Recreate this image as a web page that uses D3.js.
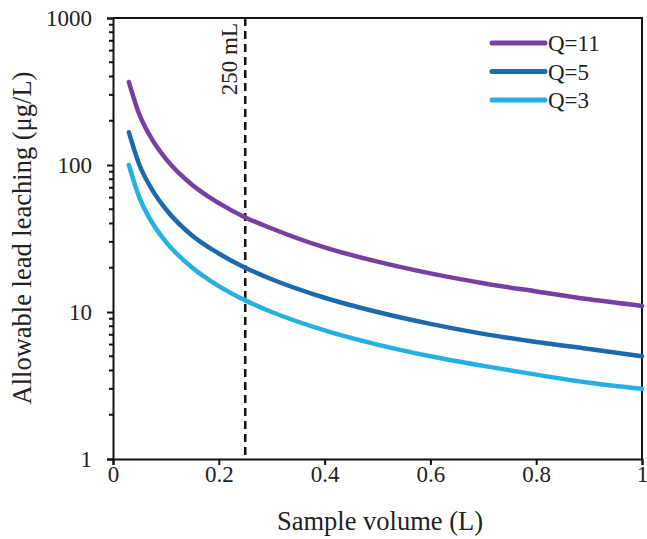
<!DOCTYPE html>
<html lang="en">
<head>
<meta charset="UTF-8">
<script src="https://d3js.org/d3.v7.min.js"></script>
<style>
    body { margin: 0; background: #fff; }
</style>
</head>
<body>
<div id="chart"></div>
<script>
    // sample volume (L)
    const volumes = [0.03, 0.05, 0.075, 0.1, 0.15, 0.2, 0.25, 0.3, 0.4, 0.5, 0.6, 0.7, 0.8, 0.9, 1.0];
    // allowable lead leaching (ug/L) per curve
    const q11 = [367, 220, 147, 110, 73, 55, 44, 37, 27.5, 22, 18.3, 15.7, 13.8, 12.2, 11];
    const q5  = [167, 100, 67, 50, 33, 25, 20, 16.7, 12.5, 10, 8.3, 7.1, 6.25, 5.6, 5];
    const q3  = [100, 60, 40, 30, 20, 15, 12, 10, 7.5, 6, 5, 4.3, 3.75, 3.3, 3];
    const seriesNames = ["Q=11", "Q=5", "Q=3"];
    const seriesColors = ["#7640a0", "#1c6aab", "#25b0e2"];
    const xTicks = [0, 0.2, 0.4, 0.6, 0.8, 1];
    const yTicks = [1, 10, 100, 1000];
    const markerVolume = 0.25;

    const FONT = "'Liberation Serif'";

    const margin = {top: 18, right: 5, bottom: 80, left: 113},
        width = 647 - margin.left - margin.right,
        height = 539 - margin.top - margin.bottom;

    const svg = d3.select("#chart").append("svg")
        .attr("width", 647).attr("height", 539);
    const g = svg.append("g")
        .attr("transform", "translate(" + margin.left + "," + margin.top + ")");

    const x = d3.scaleLinear().domain([0, 1]).range([0, width]);
    const y = d3.scaleLog().domain([1, 1000]).range([height, 0]);

    // frame (top + right)
    g.append("path")
        .attr("d", `M0,0H${width}V${height}`)
        .attr("fill", "none").attr("stroke", "#111").attr("stroke-width", 2);

    // minor ticks on the log axis
    const minor = [];
    for (let d = 1; d < 1000; d *= 10)
        for (let k = 2; k <= 9; k++) minor.push(d * k);
    g.selectAll(".minor").data(minor).enter().append("line")
        .attr("x1", -4).attr("x2", 0)
        .attr("y1", d => y(d)).attr("y2", d => y(d))
        .attr("stroke", "#111").attr("stroke-width", 2);

    const yAxis = g.append("g")
        .call(d3.axisLeft(y).tickValues(yTicks).tickFormat(d3.format("d")).tickSize(6).tickPadding(15));
    const xAxis = g.append("g")
        .attr("transform", "translate(0," + height + ")")
        .call(d3.axisBottom(x).tickValues(xTicks).tickFormat(d => d === 0 || d === 1 ? d : d3.format(".1f")(d)).tickSize(6).tickPadding(1));
    [xAxis, yAxis].forEach(a => {
        a.attr("font-family", null).attr("font-size", null);
        a.select(".domain").attr("stroke", "#111").attr("stroke-width", 2);
        a.selectAll(".tick line").attr("stroke", "#111").attr("stroke-width", 2);
        a.selectAll(".tick text").attr("fill", "#222")
            .style("font-family", FONT).style("font-size", "23px");
    });

    // 250 mL marker
    g.append("line")
        .attr("x1", x(markerVolume)).attr("x2", x(markerVolume))
        .attr("y1", 0).attr("y2", height)
        .attr("stroke", "#111").attr("stroke-width", 2.5)
        .attr("stroke-dasharray", "8,5");
    g.append("text")
        .attr("transform", `translate(${x(markerVolume) - 8},5) rotate(-90)`)
        .attr("text-anchor", "end")
        .attr("fill", "#222")
        .style("font-family", FONT).style("font-size", "23px")
        .text("250 mL");

    // curves
    const allSeries = [q11, q5, q3];
    const line = d3.line()
        .x((d, i) => x(volumes[i]))
        .y(d => y(d))
        .curve(d3.curveMonotoneX);
    allSeries.forEach((s, i) => {
        g.append("path")
            .datum(s)
            .attr("fill", "none")
            .attr("stroke", seriesColors[i])
            .attr("stroke-width", 4.5)
            .attr("stroke-linecap", "round")
            .attr("d", line);
    });

    // legend
    const legend = g.append("g").attr("transform", "translate(379,25)");
    seriesNames.forEach((name, i) => {
        const row = legend.append("g").attr("transform", `translate(0,${i * 28.5})`);
        row.append("line").attr("x1", 0).attr("x2", 53)
            .attr("stroke", seriesColors[i]).attr("stroke-width", 5).attr("stroke-linecap", "round");
        row.append("text").attr("x", 56).attr("y", 8)
            .attr("fill", "#222")
            .style("font-family", FONT).style("font-size", "23px")
            .text(name);
    });

    // axis titles
    svg.append("text")
        .attr("x", 380).attr("y", 530)
        .attr("text-anchor", "middle")
        .attr("fill", "#222")
        .style("font-family", FONT).style("font-size", "26.5px")
        .text("Sample volume (L)");
    svg.append("text")
        .attr("transform", "translate(31,238) rotate(-90)")
        .attr("text-anchor", "middle")
        .attr("fill", "#222")
        .style("font-family", FONT).style("font-size", "26.5px")
        .text("Allowable lead leaching (μg/L)");
</script>
</body>
</html>
